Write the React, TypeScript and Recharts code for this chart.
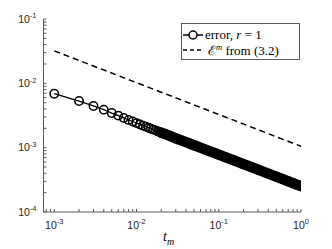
import { LineChart, Line, XAxis, YAxis } from 'recharts';

// error, r = 1 : t_m = m/1000 (sparse markers first, then the dense band)
const tm = [
  0.001, 0.002, 0.003, 0.004, 0.005, 0.006, 0.007, 0.008, 0.009, 0.01,
  0.011, 0.012, 0.013, 0.014, 0.015, 0.016, 0.017, 0.018, 0.019, 0.02,
  0.022, 0.025, 0.03, 0.035, 0.04, 0.045, 0.05, 0.06, 0.07, 0.08, 0.09, 0.1,
  0.12, 0.15, 0.2, 0.25, 0.3, 0.4, 0.5, 0.6, 0.7, 0.8, 0.9, 1,
];
const errR1 = [
  6.9e-3, 5.3e-3, 4.45e-3, 3.9e-3, 3.45e-3, 3.15e-3, 2.9e-3, 2.7e-3, 2.55e-3, 2.41e-3,
  2.3e-3, 2.2e-3, 2.12e-3, 2.04e-3, 1.97e-3, 1.91e-3, 1.86e-3, 1.8e-3, 1.76e-3, 1.71e-3,
  1.64e-3, 1.54e-3, 1.4e-3, 1.3e-3, 1.22e-3, 1.15e-3, 1.09e-3, 1.0e-3, 9.27e-4, 8.69e-4, 8.2e-4, 7.79e-4,
  7.12e-4, 6.38e-4, 5.54e-4, 4.97e-4, 4.54e-4, 3.95e-4, 3.54e-4, 3.24e-4, 3.0e-4, 2.81e-4, 2.65e-4, 2.52e-4,
];

// E^m from (3.2)
const boundT = [0.001, 1];
const boundE = [0.032, 0.00105];

const xMajor = [0.001, 0.01, 0.1, 1];
const xMinor = [
  0.0008, 0.0009,
  0.002, 0.003, 0.004, 0.005, 0.006, 0.007, 0.008, 0.009,
  0.02, 0.03, 0.04, 0.05, 0.06, 0.07, 0.08, 0.09,
  0.2, 0.3, 0.4, 0.5, 0.6, 0.7, 0.8, 0.9,
];
const yMajor = [1e-4, 1e-3, 1e-2, 1e-1];
const yMinor = [
  2e-4, 3e-4, 4e-4, 5e-4, 6e-4, 7e-4, 8e-4, 9e-4,
  2e-3, 3e-3, 4e-3, 5e-3, 6e-3, 7e-3, 8e-3, 9e-3,
  2e-2, 3e-2, 4e-2, 5e-2, 6e-2, 7e-2, 8e-2, 9e-2,
];

const errData = tm.map((t, i) => ({ t, err: errR1[i] }));
const bandData = errData.filter((d) => d.t >= 0.02);
const boundData = boundT.map((t, i) => ({ t, e: boundE[i] }));

const xDomain = [0.00074, 1];
const yDomain = [1e-4, 1e-1];
const axisColor = '#5a5a5a';
const tickFont = '"Liberation Sans", Arial, sans-serif';

const expOf = (v: number) => Math.round(Math.log10(v));

const XTick = (props: any) => {
  const { x, y, payload } = props;
  if (!xMajor.includes(payload.value)) return <g />;
  return (
    <text x={x} y={y + 16.5} textAnchor="middle" fontFamily={tickFont} fontSize={10.5} fill="#262626">
      10<tspan dy={-4.5} fontSize={7.5}>{expOf(payload.value)}</tspan>
    </text>
  );
};

const YTick = (props: any) => {
  const { x, y, payload } = props;
  if (!yMajor.includes(payload.value)) return <g />;
  return (
    <text x={x - 7} y={y + 3.8} textAnchor="end" fontFamily={tickFont} fontSize={10.5} fill="#262626">
      10<tspan dy={-4.5} fontSize={7.5}>{expOf(payload.value)}</tspan>
    </text>
  );
};

const noLabel = () => <g />;

export default function App() {
  const serif = '"Liberation Serif", "DejaVu Serif", serif';
  return (
    <div style={{ position: 'absolute', left: 0, top: 0, width: 332, height: 249, background: '#fff' }}>
      <LineChart width={332} height={249} margin={{ top: 19, right: 31, bottom: 0, left: 0 }}>
        <XAxis
          dataKey="t" type="number" scale="log" domain={xDomain} allowDataOverflow
          ticks={[...xMajor, ...xMinor]} interval={0} height={37}
          tickSize={-3} tickMargin={3} tick={XTick}
          stroke={axisColor} tickLine={{ stroke: axisColor }}
        />
        <XAxis
          xAxisId="top" orientation="top" type="number" scale="log" domain={xDomain} allowDataOverflow
          ticks={[...xMajor, ...xMinor]} interval={0} height={0}
          tickSize={-3} tick={noLabel} stroke={axisColor} tickLine={{ stroke: axisColor }}
        />
        <YAxis
          type="number" scale="log" domain={yDomain} allowDataOverflow
          ticks={[...yMajor, ...yMinor]} interval={0} width={43.5}
          tickSize={-3} tickMargin={3} tick={YTick}
          stroke={axisColor} tickLine={{ stroke: axisColor }}
        />
        <YAxis
          yAxisId="right" orientation="right" type="number" scale="log" domain={yDomain} allowDataOverflow
          ticks={[...yMajor, ...yMinor]} interval={0} width={0}
          tickSize={-3} tick={noLabel} stroke={axisColor} tickLine={{ stroke: axisColor }}
        />
        <Line
          data={boundData} dataKey="e" stroke="#000" strokeWidth={1.5}
          strokeDasharray="6 4" dot={false} isAnimationActive={false}
        />
        <Line
          data={bandData} dataKey="err" stroke="#000" strokeWidth={10.5}
          strokeLinecap="round" dot={false} isAnimationActive={false}
        />
        <Line
          data={errData} dataKey="err" stroke="#000" strokeWidth={1.3}
          dot={{ r: 4.2, stroke: '#000', strokeWidth: 1.5, fill: 'none' }} isAnimationActive={false}
        />
      </LineChart>

      <div
        style={{
          position: 'absolute', left: 181, top: 23, width: 119, height: 37, boxSizing: 'border-box',
          border: `1px solid ${axisColor}`, background: '#fff', fontFamily: serif, fontSize: 13, color: '#000',
        }}
      >
        <div style={{ position: 'absolute', left: 1, top: 3, height: 15, display: 'flex', alignItems: 'center' }}>
          <svg width={20} height={14}>
            <line x1={0} y1={7} x2={20} y2={7} stroke="#000" strokeWidth={1.5} />
            <circle cx={10} cy={7} r={4} stroke="#000" strokeWidth={1.5} fill="#fff" />
          </svg>
          <span style={{ marginLeft: 2, whiteSpace: 'nowrap' }}>
            error, <i>r</i> = 1
          </span>
        </div>
        <div style={{ position: 'absolute', left: 1, top: 18, height: 15, display: 'flex', alignItems: 'center' }}>
          <svg width={20} height={14}>
            <line x1={0} y1={7} x2={20} y2={7} stroke="#000" strokeWidth={1.5} strokeDasharray="4 3" />
          </svg>
          <span style={{ marginLeft: 5, whiteSpace: 'nowrap' }}>
            ℰ<sup style={{ fontSize: 8.5, fontStyle: 'italic' }}>m</sup> from (3.2)
          </span>
        </div>
      </div>

      <div style={{ position: 'absolute', left: 163, top: 229, fontFamily: serif, fontSize: 14, color: '#000' }}>
        <i>t</i>
        <sub style={{ fontSize: 10, fontStyle: 'italic' }}>m</sub>
      </div>
    </div>
  );
}
